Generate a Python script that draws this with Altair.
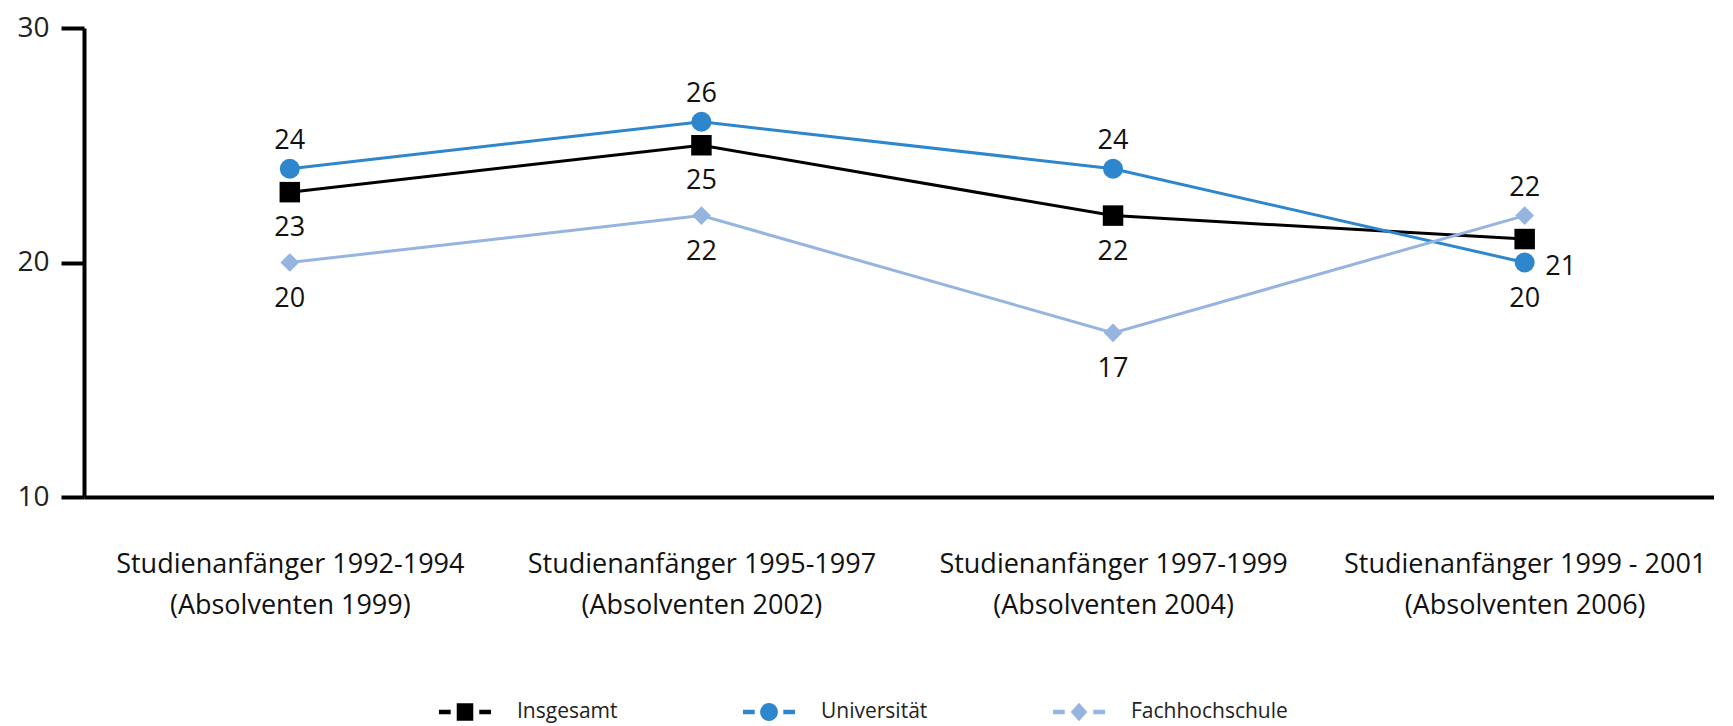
import json
import altair as alt
import pandas as pd

# ---- data ----
cat_line1 = ["Studienanfänger 1992-1994", "Studienanfänger 1995-1997",
             "Studienanfänger 1997-1999", "Studienanfänger 1999 - 2001"]
cat_line2 = ["(Absolventen 1999)", "(Absolventen 2002)",
             "(Absolventen 2004)", "(Absolventen 2006)"]
series_names = ["Insgesamt", "Universität", "Fachhochschule"]
insgesamt = [23, 25, 22, 21]
universitaet = [24, 26, 24, 20]
fachhochschule = [20, 22, 17, 22]

# ---- styles ----
COLORS = {"Insgesamt": "#000000", "Universität": "#2E86CC", "Fachhochschule": "#95B4DF"}
SHAPES = {"Insgesamt": "square", "Universität": "circle", "Fachhochschule": "diamond"}
SIZES = {"Insgesamt": 420, "Universität": 400, "Fachhochschule": 350}
LABEL_PLACE = {
    "Insgesamt": ["below", "below", "below", "right"],
    "Universität": ["above", "above", "above", "below"],
    "Fachhochschule": ["below", "below", "below", "above"],
}
# legend glyphs "-marker-" (drawn larger than the nominal symbol box)
_DASHES = "M-2.17,-0.19L-1.19,-0.19L-1.19,0.19L-2.17,0.19Z M1.19,-0.19L2.17,-0.19L2.17,0.19L1.19,0.19Z "
LEGEND_PATHS = {
    "Insgesamt": _DASHES + "M-0.69,-0.72L0.69,-0.72L0.69,0.72L-0.69,0.72Z",
    "Universität": _DASHES + "M-0.74,0A0.74,0.74 0 1,0 0.74,0A0.74,0.74 0 1,0 -0.74,0Z",
    "Fachhochschule": _DASHES + "M0,-0.78L0.69,0L0,0.78L-0.69,0Z",
}

FONT = "Open Sans, Noto Sans, DejaVu Sans, sans-serif"

values_by_series = {"Insgesamt": insgesamt, "Universität": universitaet, "Fachhochschule": fachhochschule}
rows = []
for s in series_names:
    for i, v in enumerate(values_by_series[s]):
        rows.append({
            "idx": i, "series": s, "value": v,
            "col": COLORS[s], "shp": SHAPES[s], "sz": SIZES[s],
            "place": LABEL_PLACE[s][i],
        })
df = pd.DataFrame(rows)

labels_arr = json.dumps([[a, b] for a, b in zip(cat_line1, cat_line2)], ensure_ascii=False)

x_enc = alt.X("idx:Q",
              scale=alt.Scale(domain=[-0.5, 3.46], nice=False, zero=False),
              axis=alt.Axis(values=[0, 1, 2, 3], ticks=False, grid=False, title=None,
                            labelExpr=f"{labels_arr}[datum.value]",
                            labelFont=FONT, labelFontSize=27, labelColor="#111111",
                            labelPadding=54, labelLineHeight=41, labelFlush=False,
                            labelOverlap=False, labelBound=False,
                            domainColor="#000000", domainWidth=4, labelLimit=500))
y_enc = alt.Y("value:Q",
              scale=alt.Scale(domain=[10, 30], nice=False, zero=False),
              axis=alt.Axis(values=[10, 20, 30], grid=False, title=None,
                            tickSize=23, tickWidth=4, tickColor="#000000",
                            domainColor="#000000", domainWidth=4,
                            labelFont=FONT, labelFontSize=28, labelColor="#222222",
                            labelPadding=12))

base = alt.Chart(df)

lines = base.mark_line(strokeWidth=3).encode(
    x=x_enc, y=y_enc, detail="series:N",
    color=alt.Color("col:N", scale=None),
)
points = base.mark_point(filled=True, opacity=1).encode(
    x=x_enc, y=y_enc,
    color=alt.Color("col:N", scale=None),
    shape=alt.Shape("shp:N", scale=None),
    size=alt.Size("sz:Q", scale=None),
)

def label_layer(place, dx, dy):
    return base.transform_filter(alt.datum.place == place).mark_text(
        font=FONT, fontSize=27, color="#111111", dx=dx, dy=dy, align="center", baseline="middle"
    ).encode(x=x_enc, y=y_enc, text="value:Q")

lab_above = label_layer("above", 0, -28)
lab_below = label_layer("below", 0, 36)
lab_right = label_layer("right", 36, 28)

legend_layer = base.mark_point(filled=True, opacity=0, size=576).encode(
    x=x_enc, y=y_enc,
    color=alt.Color("series:N",
                    scale=alt.Scale(domain=series_names, range=[COLORS[s] for s in series_names]),
                    legend=alt.Legend(title=None, orient="none", direction="horizontal",
                                      legendX=369, legendY=672,
                                      symbolSize=576, symbolOpacity=1, symbolStrokeWidth=0,
                                      labelFont=FONT, labelFontSize=21, labelColor="#222222",
                                      labelLimit=400,
                                      labelOffset=40, columnPadding=124, symbolOffset=0)),
    shape=alt.Shape("series:N",
                    scale=alt.Scale(domain=series_names, range=[LEGEND_PATHS[s] for s in series_names])),
)

chart = alt.layer(lines, points, lab_above, lab_below, lab_right, legend_layer).properties(
    width=1630, height=469,
    padding={"left": 8, "top": 6, "right": 0, "bottom": 8},
    background="#ffffff",
).configure_view(stroke=None)

chart.save("out.html", embed_options={"renderer": "svg", "actions": False})
